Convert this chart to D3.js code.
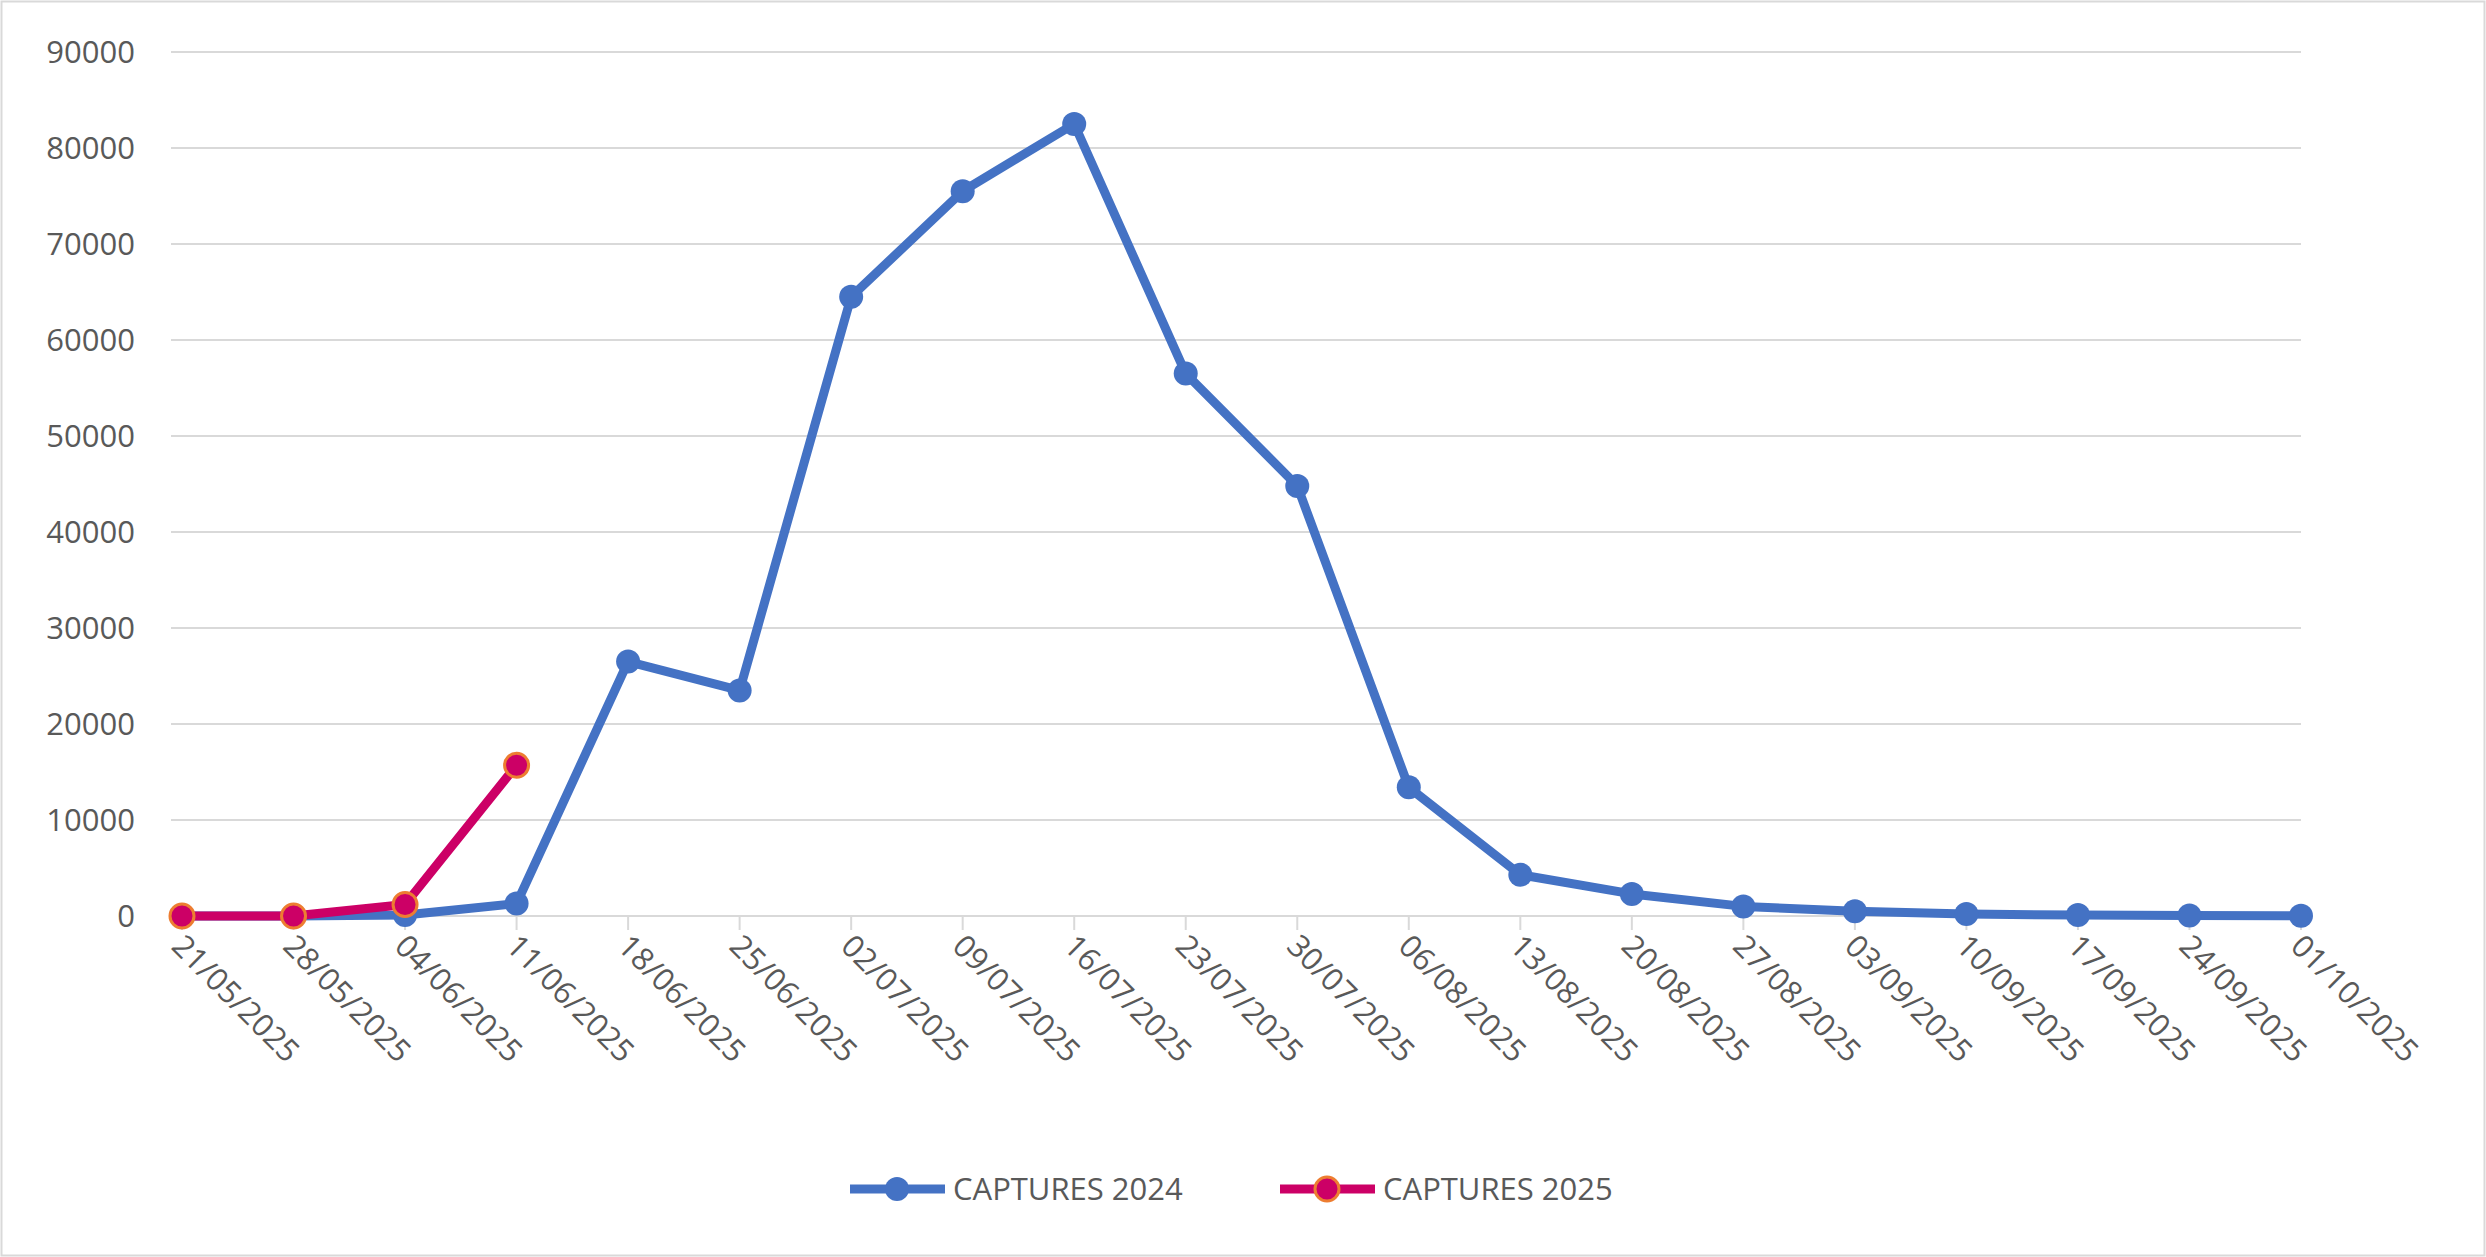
<!DOCTYPE html>
<html><head><meta charset="utf-8">
<script src="https://cdn.jsdelivr.net/npm/d3@7"></script>
<style>body{margin:0;background:#fff}svg{display:block}</style></head>
<body><svg id="c" width="2486" height="1257"></svg>
<script>
const categories=["21/05/2025","28/05/2025","04/06/2025","11/06/2025","18/06/2025","25/06/2025","02/07/2025","09/07/2025","16/07/2025","23/07/2025","30/07/2025","06/08/2025","13/08/2025","20/08/2025","27/08/2025","03/09/2025","10/09/2025","17/09/2025","24/09/2025","01/10/2025"];
const captures2024=[0,0,100,1300,26500,23500,64500,75500,82500,56500,44800,13400,4300,2300,1000,500,200,100,50,30];
const captures2025=[0,0,1200,15700];
const yTicks=[0,10000,20000,30000,40000,50000,60000,70000,80000,90000];
const svg=d3.select("#c");
const font="'Open Sans', sans-serif";
svg.append("rect").attr("x",1.5).attr("y",1.5).attr("width",2483).attr("height",1254).attr("fill","#fff").attr("stroke","#d9d9d9").attr("stroke-width",2);
const x=d3.scalePoint().domain(categories).range([182,2301]);
const y=d3.scaleLinear().domain([0,90000]).range([916,52]);
const g=svg.append("g");
g.selectAll("line.grid").data(yTicks).join("line").attr("x1",171).attr("x2",2301).attr("y1",d=>y(d)).attr("y2",d=>y(d)).attr("stroke","#d9d9d9").attr("stroke-width",2);
g.selectAll("line.tk").data(categories).join("line").attr("x1",d=>x(d)).attr("x2",d=>x(d)).attr("y1",916).attr("y2",930).attr("stroke","#d9d9d9").attr("stroke-width",2);
g.selectAll("text.yl").data(yTicks).join("text").attr("x",135).attr("y",d=>y(d)).attr("dy","0.35em").attr("text-anchor","end").attr("font-family",font).attr("font-size",31).attr("fill","#595959").text(d=>d);
g.selectAll("text.xl").data(categories).join("text").attr("transform",d=>`translate(${x(d)-12},${948}) rotate(45)`).attr("font-family",font).attr("font-size",31).attr("fill","#595959").text(d=>d);
function series(vals,color,stroke){
  const line=d3.line().x((d,i)=>x(categories[i])).y(d=>y(d));
  svg.append("path").datum(vals).attr("d",line).attr("fill","none").attr("stroke",color).attr("stroke-width",9).attr("stroke-linejoin","round");
  svg.selectAll(null).data(vals).join("circle").attr("cx",(d,i)=>x(categories[i])).attr("cy",d=>y(d)).attr("r",12).attr("fill",color).attr("stroke",stroke||color).attr("stroke-width",stroke?3:0);
}
series(captures2024,"#4472c4");
series(captures2025,"#cc0066","#ed7d31");
const leg=[{n:"CAPTURES 2024",c:"#4472c4",s:null,x:850},{n:"CAPTURES 2025",c:"#cc0066",s:"#ed7d31",x:1280}];
leg.forEach(l=>{
  svg.append("line").attr("x1",l.x).attr("x2",l.x+95).attr("y1",1189).attr("y2",1189).attr("stroke",l.c).attr("stroke-width",9);
  svg.append("circle").attr("cx",l.x+47).attr("cy",1189).attr("r",12).attr("fill",l.c).attr("stroke",l.s||l.c).attr("stroke-width",l.s?3:0);
  svg.append("text").attr("x",l.x+103).attr("y",1189).attr("dy","0.35em").attr("font-family",font).attr("font-size",31).attr("fill","#595959").text(l.n);
});
</script></body></html>
